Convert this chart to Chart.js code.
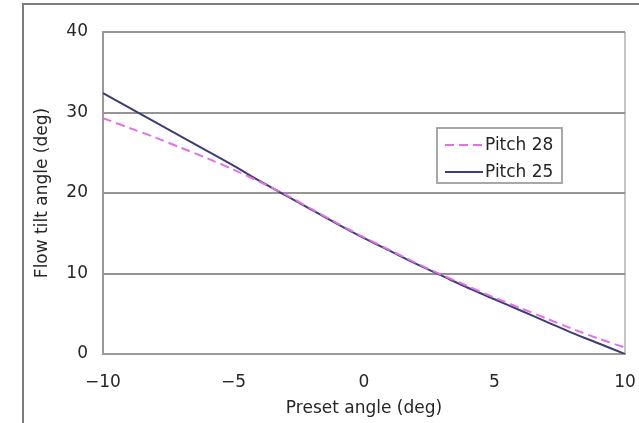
<!DOCTYPE html>
<html>
<head>
<meta charset="utf-8">
<title>Flow tilt angle</title>
<script src="https://cdn.jsdelivr.net/npm/chart.js@4/dist/chart.umd.min.js"></script>
<style>
    body { margin: 0; background: #fff; }
    #wrap { position: relative; width: 639px; height: 423px; overflow: hidden; }
    #frame { position: absolute; left: 22px; top: 3px; width: 640px; height: 440px;
             border-left: 2px solid #7c7c7c; border-top: 2px solid #7c7c7c; }
    canvas { position: absolute; left: 0; top: 0; }
</style>
</head>
<body>
<div id="wrap">
    <div id="frame"></div>
    <canvas id="myChart" width="639" height="423"></canvas>
</div>
<script>
// preset angle (deg)
const presetAngles = [-10, -9, -8, -7, -6, -5, -4, -3, -2, -1, 0, 1, 2, 3, 4, 5, 6, 7, 8, 9, 10];
// flow tilt angle (deg)
const pitch28 = [29.3, 28.1, 26.9, 25.6, 24.3, 22.9, 21.4, 19.8, 18.0, 16.2, 14.5, 12.9, 11.3, 9.8, 8.4, 7.0, 5.7, 4.4, 3.1, 1.9, 0.8];
const pitch25 = [32.4, 30.6, 28.8, 27.0, 25.2, 23.4, 21.5, 19.7, 17.9, 16.1, 14.4, 12.8, 11.2, 9.7, 8.2, 6.8, 5.4, 4.0, 2.6, 1.3, 0.0];
const seriesNames = ["Pitch 28", "Pitch 25"];
const xTicks = [-10, -5, 0, 5, 10];
const yTicks = [0, 10, 20, 30, 40];

const fontFam = "'DejaVu Sans', sans-serif";
const textColor = "#262626";

function toPoints(ys) {
    return presetAngles.map((x, i) => ({ x: x, y: ys[i] }));
}

function fmt(v) {
    return v < 0 ? "\u2212" + Math.abs(v) : String(v);
}

// legend box inside the plot, drawn from the datasets
const boxLegend = {
    id: 'boxLegend',
    afterDraw(chart) {
        const ctx = chart.ctx;
        const left = 437, top = 128, w = 125, h = 55;
        ctx.save();
        ctx.fillStyle = "#fff";
        ctx.fillRect(left, top, w, h);
        ctx.strokeStyle = "#a8a8a8";
        ctx.lineWidth = 2;
        ctx.strokeRect(left, top, w, h);
        chart.data.datasets.forEach((ds, i) => {
            const y = top + 17 + i * 27;
            ctx.strokeStyle = ds.borderColor;
            ctx.lineWidth = ds.borderWidth;
            ctx.setLineDash(ds.borderDash || []);
            ctx.beginPath();
            ctx.moveTo(left + 8, y);
            ctx.lineTo(left + 46, y);
            ctx.stroke();
            ctx.setLineDash([]);
            ctx.fillStyle = textColor;
            ctx.font = "17px " + fontFam;
            ctx.textBaseline = "middle";
            ctx.fillText(ds.label, left + 48, y + 1);
        });
        ctx.restore();
    }
};

new Chart("myChart", {
    type: "line",
    data: {
        datasets: [{
            label: seriesNames[0],
            data: toPoints(pitch28),
            borderColor: "#e46fe6",
            borderWidth: 2,
            borderDash: [9, 5],
            pointRadius: 0,
            tension: 0.3
        }, {
            label: seriesNames[1],
            data: toPoints(pitch25),
            borderColor: "#3c3c78",
            borderWidth: 2,
            pointRadius: 0,
            tension: 0.3
        }]
    },
    options: {
        responsive: false,
        animation: false,
        layout: { padding: { left: 0, top: 32, right: 14, bottom: 0 } },
        plugins: { legend: { display: false }, tooltip: { enabled: false } },
        scales: {
            x: {
                type: "linear",
                min: -10,
                max: 10,
                afterFit(scale) {
                    scale.height = 69;
                    scale.paddingLeft = 0;
                    scale.paddingRight = 0;
                },
                afterBuildTicks(scale) { scale.ticks = xTicks.map(v => ({ value: v })); },
                ticks: {
                    padding: 18,
                    color: textColor,
                    font: { family: fontFam, size: 17 },
                    callback: fmt
                },
                grid: {
                    drawTicks: false,
                    lineWidth: 2,
                    color: ctx => ctx.tick && ctx.tick.value === 10 ? "#c4c4c4" : "rgba(0,0,0,0)"
                },
                border: { display: true, color: "#9a9a9a", width: 2 },
                title: {
                    display: true,
                    text: "Preset angle (deg)",
                    color: textColor,
                    font: { family: fontFam, size: 17 },
                    padding: { top: 0, bottom: 4 }
                }
            },
            y: {
                min: 0,
                max: 40,
                afterFit(scale) {
                    scale.width = 103;
                    scale.paddingTop = 0;
                    scale.paddingBottom = 0;
                },
                afterBuildTicks(scale) { scale.ticks = yTicks.map(v => ({ value: v })); },
                ticks: {
                    padding: 15,
                    color: textColor,
                    font: { family: fontFam, size: 17 }
                },
                grid: { drawTicks: false, color: "#959595", lineWidth: 2 },
                border: { display: true, color: "#9a9a9a", width: 2 },
                title: {
                    display: true,
                    text: "Flow tilt angle (deg)",
                    color: textColor,
                    font: { family: fontFam, size: 17 },
                    padding: { top: 32, bottom: 0 }
                }
            }
        }
    },
    plugins: [boxLegend]
});
</script>
</body>
</html>
